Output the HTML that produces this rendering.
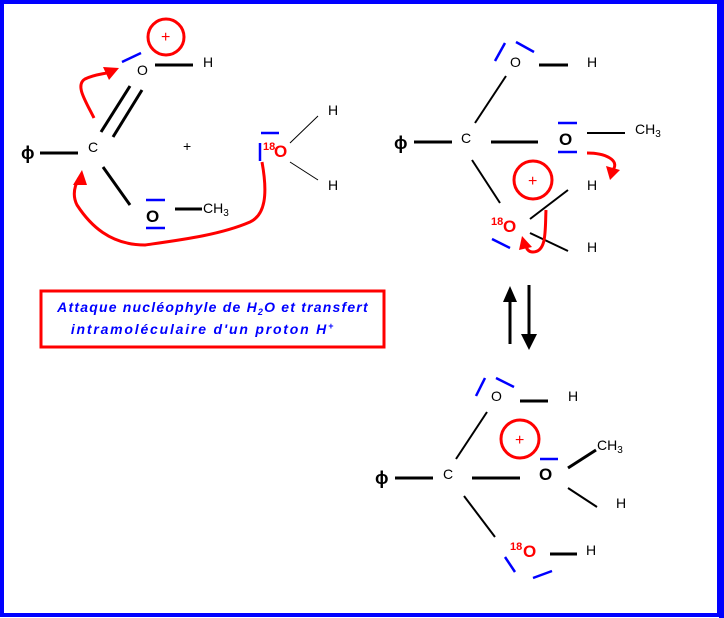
<!DOCTYPE html>
<html><head><meta charset="utf-8"><style>
html,body{margin:0;padding:0;background:#fff}
svg{display:block}
text{font-family:"Liberation Sans",sans-serif}
</style></head><body>
<svg width="724" height="618" viewBox="0 0 724 618" xmlns="http://www.w3.org/2000/svg">
<rect x="2" y="2" width="717" height="613" fill="#fff" stroke="#0000ff" stroke-width="4"/>
<rect x="719" y="0" width="5" height="618" fill="#0000ff"/>
<g stroke="#000" stroke-width="3" fill="none">
<line x1="155" y1="65" x2="193" y2="65"/>
<line x1="101" y1="132" x2="130" y2="86"/>
<line x1="113" y1="137" x2="142" y2="90"/>
<line x1="40" y1="153" x2="78" y2="153"/>
<line x1="103" y1="167" x2="130" y2="205"/>
<line x1="175" y1="209" x2="202" y2="209"/>
<line x1="290" y1="143" x2="318" y2="116" stroke-width="1"/>
<line x1="290" y1="162" x2="318" y2="180" stroke-width="1"/>
<line x1="539" y1="65" x2="568" y2="65"/>
<line x1="506" y1="76" x2="475" y2="123" stroke-width="2"/>
<line x1="414" y1="142" x2="452" y2="142"/>
<line x1="491" y1="142" x2="538" y2="142"/>
<line x1="587" y1="133" x2="625" y2="133" stroke-width="2"/>
<line x1="472" y1="160" x2="500" y2="203" stroke-width="2"/>
<line x1="530" y1="219" x2="568" y2="190" stroke-width="2"/>
<line x1="530" y1="233" x2="568" y2="251" stroke-width="2"/>
<line x1="520" y1="401" x2="548" y2="401"/>
<line x1="487" y1="412" x2="456" y2="459" stroke-width="2"/>
<line x1="395" y1="478" x2="433" y2="478"/>
<line x1="472" y1="478" x2="520" y2="478"/>
<line x1="568" y1="468" x2="596" y2="450"/>
<line x1="568" y1="488" x2="597" y2="507" stroke-width="2"/>
<line x1="464" y1="496" x2="495" y2="537" stroke-width="2"/>
<line x1="550" y1="554" x2="577" y2="554"/>
<line x1="510" y1="344" x2="510" y2="300"/>
<line x1="529" y1="285" x2="529" y2="334"/>
</g>
<polygon points="510,286 503,302 517,302" fill="#000"/>
<polygon points="529,350 521,334 537,334" fill="#000"/>
<g stroke="#0000ff" stroke-width="2.5">
<line x1="122" y1="62" x2="141" y2="53"/>
<line x1="146" y1="200" x2="165" y2="200"/>
<line x1="146" y1="228" x2="165" y2="228"/>
<line x1="261" y1="133" x2="279" y2="133"/>
<line x1="260" y1="143" x2="260" y2="161"/>
<line x1="495" y1="61" x2="505" y2="43"/>
<line x1="516" y1="42" x2="534" y2="52"/>
<line x1="558" y1="123" x2="577" y2="123"/>
<line x1="558" y1="152" x2="577" y2="152"/>
<line x1="492" y1="239" x2="510" y2="248"/>
<line x1="476" y1="396" x2="485" y2="378"/>
<line x1="496" y1="378" x2="514" y2="387"/>
<line x1="540" y1="459" x2="558" y2="459"/>
<line x1="505" y1="557" x2="515" y2="572"/>
<line x1="533" y1="578" x2="552" y2="571"/>
</g>
<g stroke="#ff0000" stroke-width="3" fill="none">
<circle cx="166" cy="37" r="18"/>
<circle cx="533" cy="180" r="19"/>
<circle cx="520" cy="439" r="19"/>
<path d="M94,118 C85,100 75,85 85,79 C95,74 105,74 110,72"/>
<path d="M262,162 C268,195 265,215 250,222 C220,235 180,240 145,245 C110,245 90,225 77,205 C72,195 75,185 79,178"/>
<path d="M587,153 C605,153 620,160 613,170"/>
<path d="M546,210 C545,230 547,252 533,252 C528,252 526,248 526,245"/>
</g>
<g fill="#ff0000">
<polygon points="119,68 103,67 109,80"/>
<polygon points="82,170 73,185 87,185"/>
<polygon points="610,180 606,166 620,170"/>
<polygon points="522,236 519,250 532,247"/>
</g>
<g fill="#ff0000" font-size="16"><text x="161" y="42">+</text><text x="528" y="186">+</text><text x="515" y="445">+</text></g>
<g font-size="14" fill="#000">
<text x="137" y="75">O</text><text x="203" y="67">H</text>
<text x="88" y="152">C</text><text x="21" y="159" font-size="18" font-weight="bold">ϕ</text>
<text x="203" y="213">CH<tspan font-size="10" dy="3">3</tspan></text>
<text x="183" y="151">+</text>
<text x="328" y="115">H</text><text x="328" y="190">H</text>
<text x="510" y="67">O</text><text x="587" y="67">H</text>
<text x="461" y="143">C</text><text x="394" y="149" font-size="18" font-weight="bold">ϕ</text>
<text x="635" y="134">CH<tspan font-size="10" dy="3">3</tspan></text>
<text x="587" y="190">H</text><text x="587" y="252">H</text>
<text x="491" y="401">O</text><text x="568" y="401">H</text>
<text x="443" y="479">C</text><text x="375" y="484" font-size="18" font-weight="bold">ϕ</text>
<text x="597" y="450">CH<tspan font-size="10" dy="3">3</tspan></text>
<text x="616" y="508">H</text><text x="586" y="555">H</text>
</g>
<g font-size="17" font-weight="bold" fill="#000">
<text x="146" y="222">O</text><text x="559" y="145">O</text><text x="539" y="480">O</text>
</g>
<g fill="#ff0000" font-weight="bold">
<text x="263" y="150" font-size="11">18</text><text x="274" y="157" font-size="17">O</text>
<text x="491" y="225" font-size="11">18</text><text x="503" y="232" font-size="17">O</text>
<text x="510" y="550" font-size="11">18</text><text x="523" y="557" font-size="17">O</text>
</g>
<rect x="41" y="291" width="343" height="56" fill="none" stroke="#ff0000" stroke-width="3"/>
<g fill="#0000ff" font-size="14" font-weight="bold" font-style="italic" text-anchor="middle">
<text x="213" y="312" letter-spacing="1.2">Attaque nucléophyle de H<tspan font-size="9" dy="3">2</tspan><tspan dy="-3">O et transfert</tspan></text>
<text x="203" y="334" letter-spacing="1.8">intramoléculaire d'un proton H<tspan font-size="9" dy="-5">+</tspan></text>
</g>
</svg>
</body></html>
